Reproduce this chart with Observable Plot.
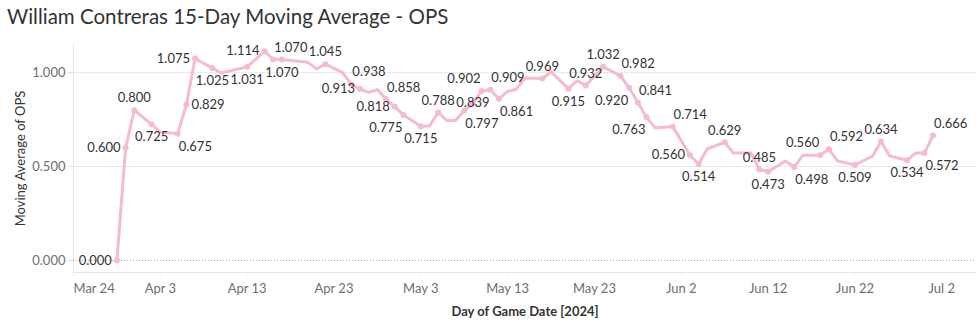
<!DOCTYPE html>
<html>
<head>
<meta charset="utf-8">
<script src="https://cdn.jsdelivr.net/npm/d3@7"></script>
<script src="https://cdn.jsdelivr.net/npm/@observablehq/plot@0.6"></script>
<style>
  html, body { margin: 0; padding: 0; background: #fff; }
  #title { font-family: Lato, "Open Sans", sans-serif; font-size: 20.5px; color: #333;
           height: 36px; line-height: 24px; padding: 4px 0 0 7px; box-sizing: border-box; white-space: nowrap; }
  #chart svg { display: block; }
</style>
</head>
<body>
<div id="title">William Contreras 15-Day Moving Average - OPS</div>
<div id="chart"></div>
<script>
const titleText = "William Contreras 15-Day Moving Average - OPS";
const yTitle = "Moving Average of OPS";
const xTitle = "Day of Game Date [2024]";

const dates = [
  "2024-03-29","2024-03-30","2024-03-31","2024-04-02","2024-04-03","2024-04-05","2024-04-06","2024-04-07",
  "2024-04-09","2024-04-10","2024-04-13","2024-04-15","2024-04-16","2024-04-17","2024-04-20","2024-04-21",
  "2024-04-22","2024-04-24","2024-04-25","2024-04-26","2024-04-27","2024-04-28","2024-04-29","2024-04-30",
  "2024-05-01","2024-05-03","2024-05-04","2024-05-05","2024-05-06","2024-05-07","2024-05-08","2024-05-09",
  "2024-05-10","2024-05-11","2024-05-12","2024-05-13","2024-05-14","2024-05-15","2024-05-17","2024-05-18",
  "2024-05-20","2024-05-21","2024-05-22","2024-05-24","2024-05-26","2024-05-27","2024-05-28","2024-05-29",
  "2024-05-30","2024-06-01","2024-06-03","2024-06-04","2024-06-05","2024-06-07","2024-06-08","2024-06-10",
  "2024-06-11","2024-06-12","2024-06-14","2024-06-15","2024-06-16","2024-06-18","2024-06-19","2024-06-20",
  "2024-06-22","2024-06-24","2024-06-25","2024-06-26","2024-06-28","2024-06-29","2024-06-30","2024-07-01"
];
const ops = [
  0.000, 0.600, 0.800, 0.725, 0.684, 0.675, 0.829, 1.075,
  1.025, 0.998, 1.031, 1.114, 1.070, 1.070, 1.055, 1.020,
  1.045, 1.000, 0.938, 0.913, 0.895, 0.910, 0.858, 0.818,
  0.775, 0.715, 0.716, 0.788, 0.745, 0.746, 0.797, 0.839,
  0.902, 0.909, 0.861, 0.900, 0.912, 0.972, 0.969, 1.005,
  0.915, 0.957, 0.932, 1.032, 0.982, 0.920, 0.841, 0.763,
  0.706, 0.714, 0.560, 0.514, 0.595, 0.629, 0.572, 0.572,
  0.485, 0.473, 0.530, 0.498, 0.560, 0.560, 0.592, 0.530,
  0.509, 0.555, 0.634, 0.556, 0.534, 0.572, 0.572, 0.666
];
// where Tableau placed each mark label (null = no label shown)
const labelPlacement = [
  "w","w","n","s",null,"se","e","w",
  "s",null,"s","w","ne","s",null,null,
  "n",null,"ne","w",null,null,"ne","w",
  "sw","s",null,"n",null,null,"se","c",
  "nw","ne","se",null,null,null,"n",null,
  "s",null,"n","n","ne","sw","ne","sw",
  null,"ne","w","s",null,"n",null,null,
  "n","s",null,"se",null,"nw","ne",null,
  "s",null,"n",null,"s",null,"se","ne"
];
const xTicks = ["2024-03-24","2024-04-03","2024-04-13","2024-04-23","2024-05-03","2024-05-13",
                "2024-05-23","2024-06-02","2024-06-12","2024-06-22","2024-07-02"];
const yTicks = [0, 0.5, 1];

const rows = dates.map((d, i) => ({date: new Date(d + "T00:00:00Z"), ops: ops[i], pos: labelPlacement[i]}));
const labeled = rows.filter(r => r.pos);
const tickDates = xTicks.map(d => new Date(d + "T00:00:00Z"));

const pink = "#f5bbcf";
const fmt = d3.format(".3f");
const offsets = {
  n:  {dx: 0,  dy: -12, textAnchor: "middle"},
  s:  {dx: 0,  dy: 13,  textAnchor: "middle"},
  e:  {dx: 5,  dy: 0,   textAnchor: "start"},
  w:  {dx: -5, dy: 0,   textAnchor: "end"},
  ne: {dx: 1,  dy: -12, textAnchor: "start"},
  nw: {dx: -1, dy: -12, textAnchor: "end"},
  se: {dx: 1,  dy: 13,  textAnchor: "start"},
  sw: {dx: -1, dy: 13,  textAnchor: "end"},
  c:  {dx: 0,  dy: 0,   textAnchor: "middle"}
};
const labelMarks = Object.entries(offsets).map(([k, o]) =>
  Plot.text(labeled.filter(r => r.pos === k), {
    x: "date", y: "ops", text: r => fmt(r.ops),
    dx: o.dx, dy: o.dy, textAnchor: o.textAnchor,
    fill: "#333", fontSize: 13
  })
);

const chart = Plot.plot({
  width: 979,
  height: 296,
  marginLeft: 73,
  marginRight: 3,
  marginTop: 8,
  marginBottom: 60,
  style: {fontFamily: "Lato, 'Open Sans', sans-serif", fontSize: "13px", background: "#fff"},
  x: {type: "utc", domain: [new Date("2024-03-24T00:00:00Z"), new Date("2024-07-06T00:00:00Z")]},
  y: {domain: [-0.064, 1.15]},
  marks: [
    Plot.gridY(yTicks.filter(v => v !== 0), {stroke: "#e8e8e8", strokeOpacity: 1}),
    Plot.frame({anchor: "left", stroke: "#e6e6e6"}),
    Plot.frame({anchor: "bottom", stroke: "#e6e6e6"}),
    Plot.ruleY([0], {stroke: "#aaa", strokeDasharray: "1,2"}),
    Plot.axisY({ticks: yTicks, tickFormat: fmt, tickSize: 5, tickPadding: 3, stroke: "#ddd",
                fill: "#6e6e6e", fontSize: 13, label: null}),
    Plot.axisX({ticks: tickDates.slice(0, 1), tickFormat: d3.utcFormat("%b %-d"), tickSize: 4, tickPadding: 7,
                stroke: "#eee", fill: "#6e6e6e", fontSize: 13, textAnchor: "start", label: null}),
    Plot.axisX({ticks: tickDates.slice(1), tickFormat: d3.utcFormat("%b %-d"), tickSize: 4, tickPadding: 7,
                stroke: "#eee", fill: "#6e6e6e", fontSize: 13, label: null}),
    Plot.text([yTitle], {frameAnchor: "left", textAnchor: "middle", dx: -53, rotate: -90, fill: "#333", fontSize: 13}),
    Plot.text([xTitle], {frameAnchor: "bottom", dy: 43, fill: "#333", fontSize: 13, fontWeight: "bold"}),
    Plot.line(rows, {x: "date", y: "ops", stroke: pink, strokeWidth: 3, strokeLinejoin: "round"}),
    Plot.dot(labeled, {x: "date", y: "ops", r: 3, fill: pink}),
    ...labelMarks
  ]
});
document.getElementById("chart").appendChild(chart);
</script>
</body>
</html>
